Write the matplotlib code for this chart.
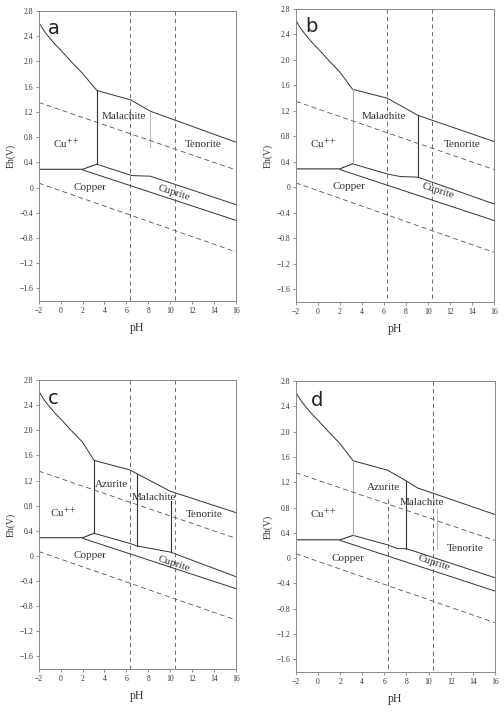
import numpy as np
import matplotlib
matplotlib.use("Agg")
import matplotlib.pyplot as plt

plt.rcParams['font.family'] = ['Liberation Serif', 'DejaVu Serif']
plt.rcParams['mathtext.fontset'] = 'stix'

# shared axis data
ph_ticks = [-2, 0, 2, 4, 6, 8, 10, 12, 14, 16]
ph_labels = ['\u22122', '0', '2', '4', '6', '8', '10', '12', '14', '16']
eh_ticks = [2.8, 2.4, 2.0, 1.6, 1.2, 0.8, 0.4, 0, -0.4, -0.8, -1.2, -1.6]
eh_labels = ['2.8', '2.4', '2.0', '1.6', '1.2', '0.8', '0.4', '0',
             '\u22120.4', '\u22120.8', '\u22121.2', '\u22121.6']

# upper Cu++ curve (before the corner)
curve_ph = [-2.0, -1.5, -1.0, -0.5, 0.0, 1.0, 2.0]
curve_eh = [2.62, 2.48, 2.37, 2.27, 2.18, 1.99, 1.81]

# water stability lines
water_ph = [-2, 16]
water_up_eh = [1.35, 0.28]
water_lo_eh = [0.07, -1.02]

# Cu++/Copper and Copper/Cuprite lines
cu_ph = [-2, 2.0]
cu_eh = [0.29, 0.29]
copper_ph = [2.0, 16]
copper_eh = [0.28, -0.52]

# pH marker lines
ph_marks = [6.3, 10.4]

# panel a
a_top_ph = [3.3, 6.4, 8.2, 16]
a_top_eh = [1.54, 1.39, 1.21, 0.72]
a_cup_ph = [3.3, 6.5, 8.2, 16]
a_cup_eh = [0.37, 0.19, 0.18, -0.27]
a_vert_ph = [3.3, 8.15]
a_vert_top = [1.54, 1.2]
a_vert_bot = [0.37, 0.65]
a_vert_col = ['#333333', '#bbbbbb']
a_mark_top = [2.8, 2.8]
a_names = ['Malachite', 'Cu$^{++}$', 'Tenorite', 'Copper', 'Cuprite']
a_name_ph = [5.75, 0.5, 13.0, 2.7, 10.3]
a_name_eh = [1.12, 0.7, 0.69, 0.0, -0.08]

# panel b
b_top_ph = [3.15, 6.3, 9.1, 16]
b_top_eh = [1.54, 1.40, 1.13, 0.72]
b_cup_ph = [3.15, 6.3, 7.5, 9.1, 16]
b_cup_eh = [0.37, 0.21, 0.17, 0.16, -0.26]
b_vert_ph = [3.15, 9.1]
b_vert_top = [1.54, 1.13]
b_vert_bot = [0.37, 0.16]
b_vert_col = ['#aaaaaa', '#333333']
b_mark_top = [2.8, 2.8]
b_names = ['Malachite', 'Cu$^{++}$', 'Tenorite', 'Copper', 'Cuprite']
b_name_ph = [6.0, 0.5, 13.1, 2.8, 10.9]
b_name_eh = [1.12, 0.69, 0.68, 0.02, -0.05]

# panel c
c_top_ph = [3.05, 6.3, 6.95, 10.0, 16]
c_top_eh = [1.52, 1.37, 1.31, 1.03, 0.69]
c_cup_ph = [3.05, 6.3, 6.95, 10.05, 16]
c_cup_eh = [0.36, 0.2, 0.16, 0.06, -0.33]
c_vert_ph = [3.05, 6.95, 10.05]
c_vert_top = [1.52, 1.31, 0.88]
c_vert_bot = [0.36, 0.16, 0.06]
c_vert_col = ['#333333', '#333333', '#333333']
c_mark_top = [2.8, 2.8]
c_names = ['Azurite', 'Malachite', 'Cu$^{++}$', 'Tenorite', 'Copper', 'Cuprite']
c_name_ph = [4.65, 8.55, 0.2, 13.1, 2.7, 10.35]
c_name_eh = [1.13, 0.93, 0.69, 0.66, 0.0, -0.13]

# panel d
d_top_ph = [3.17, 6.3, 8.0, 9.0, 16]
d_top_eh = [1.54, 1.39, 1.22, 1.11, 0.69]
d_cup_ph = [3.17, 6.3, 7.2, 8.0, 16]
d_cup_eh = [0.36, 0.21, 0.15, 0.15, -0.31]
d_vert_ph = [3.17, 8.0, 10.75]
d_vert_top = [1.54, 1.22, 0.8]
d_vert_bot = [0.36, 0.15, 0.15]
d_vert_col = ['#aaaaaa', '#333333', '#bbbbbb']
d_mark_top = [0.93, 2.8]
d_names = ['Azurite', 'Malachite', 'Cu$^{++}$', 'Tenorite', 'Copper', 'Cuprite']
d_name_ph = [5.9, 9.4, 0.45, 13.3, 2.7, 10.5]
d_name_eh = [1.12, 0.88, 0.7, 0.15, 0.0, -0.08]

fig = plt.figure(figsize=(5.04, 7.13), dpi=100)

rects = [[0.077, 0.5778, 0.391, 0.4067],
         [0.587, 0.5764, 0.393, 0.4110],
         [0.077, 0.0617, 0.391, 0.4053],
         [0.587, 0.0575, 0.395, 0.4081]]
letters = ['a', 'b', 'c', 'd']
letter_pos = [(-0.6, 2.52), (-0.6, 2.52), (-0.7, 2.51), (-0.1, 2.5)]

panels = [
    (a_top_ph, a_top_eh, a_cup_ph, a_cup_eh, a_vert_ph, a_vert_top, a_vert_bot, a_vert_col, a_mark_top, a_names, a_name_ph, a_name_eh),
    (b_top_ph, b_top_eh, b_cup_ph, b_cup_eh, b_vert_ph, b_vert_top, b_vert_bot, b_vert_col, b_mark_top, b_names, b_name_ph, b_name_eh),
    (c_top_ph, c_top_eh, c_cup_ph, c_cup_eh, c_vert_ph, c_vert_top, c_vert_bot, c_vert_col, c_mark_top, c_names, c_name_ph, c_name_eh),
    (d_top_ph, d_top_eh, d_cup_ph, d_cup_eh, d_vert_ph, d_vert_top, d_vert_bot, d_vert_col, d_mark_top, d_names, d_name_ph, d_name_eh),
]

line_col = '#333333'
for rect, letter, lpos, p in zip(rects, letters, letter_pos, panels):
    top_ph, top_eh, cup_ph, cup_eh, v_ph, v_top, v_bot, v_col, m_top, names, n_ph, n_eh = p
    ax = fig.add_axes(rect)
    ax.set_xlim(-2, 16)
    ax.set_ylim(-1.8, 2.8)

    # upper boundary: curve + corner + top line
    ax.plot(curve_ph + top_ph, curve_eh + top_eh, color=line_col, lw=0.7)
    # Cu++ / Copper then small rise to the corner
    ax.plot(cu_ph + [top_ph[0]], cu_eh + [cup_eh[0]], color=line_col, lw=0.8)
    ax.plot(cup_ph, cup_eh, color=line_col, lw=0.7)
    ax.plot(copper_ph, copper_eh, color=line_col, lw=0.7)
    for x, yt, yb, c in zip(v_ph, v_top, v_bot, v_col):
        ax.plot([x, x], [yt, yb], color=c, lw=0.8)

    # water lines
    ax.plot(water_ph, water_up_eh, color='#555555', lw=0.6, ls=(0, (6, 4)))
    ax.plot(water_ph, water_lo_eh, color='#555555', lw=0.6, ls=(0, (6, 4)))
    # pH lines
    for x, yt in zip(ph_marks, m_top):
        ax.plot([x, x], [yt, -1.8], color='#555555', lw=0.6, ls=(0, (5, 4)))

    for name, x, y in zip(names, n_ph, n_eh):
        rot = -18 if name == 'Cuprite' else 0
        ax.text(x, y, name, ha='center', va='center', fontsize=8,
                color='#333333', rotation=rot)

    ax.text(lpos[0], lpos[1], letter, ha='center', va='center', fontsize=14,
            family='DejaVu Sans', color='#222222')

    ax.set_xticks(ph_ticks)
    ax.set_xticklabels(ph_labels)
    ax.set_yticks(eh_ticks)
    ax.set_yticklabels(eh_labels)
    ax.tick_params(labelsize=5.5, length=2, width=0.5, color='#666666',
                   labelcolor='#333333', pad=2)
    for s in ax.spines.values():
        s.set_color('#888888')
        s.set_linewidth(0.7)
    ax.set_xlabel('pH', fontsize=8.5, color='#333333', labelpad=5)
    ax.set_ylabel('Eh(V)', fontsize=7, color='#333333', labelpad=3)

fig.savefig('out.png', dpi=100)
